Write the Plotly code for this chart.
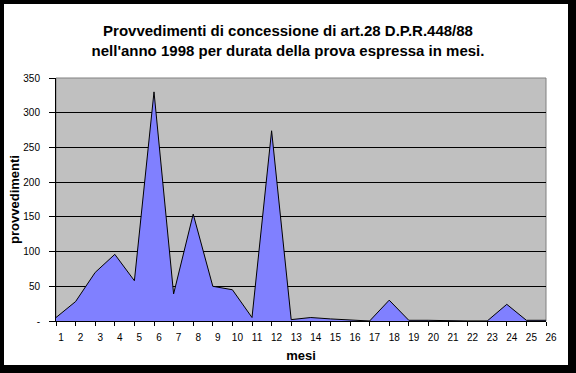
import plotly.graph_objects as go

months = list(range(1, 27))
month_labels = [str(m) for m in months]
provvedimenti = [5, 28, 70, 96, 58, 330, 39, 154, 50, 45, 5, 274, 2, 5, 3, 1, 0, 30, 1, 1, 0, 0, 0, 24, 1, 1]
y_ticks = [0, 50, 100, 150, 200, 250, 300, 350]
y_tick_labels = ["-", "50", "100", "150", "200", "250", "300", "350"]

W, H = 576, 373
L, R, T, B = 56, 30, 78, 52
pw, ph = W - L - R, H - T - B

def px_x(p):
    return (p - L) / pw

def px_y(p):
    return (H - B - p) / ph

fig = go.Figure()
fig.add_trace(go.Scatter(
    x=months, y=provvedimenti, mode="lines", fill="tozeroy",
    fillcolor="#8080FF", line=dict(color="#000000", width=1),
    hoverinfo="x+y", showlegend=False,
))

shapes = []
# black frame (thin top/left, thicker bottom/right)
for x0, y0, x1, y1 in [(0, 0, W, 4), (0, 0, 4, H), (568, 0, W, H), (0, 365, W, H)]:
    shapes.append(dict(type="rect", xref="paper", yref="paper",
                       x0=px_x(x0), x1=px_x(x1), y0=px_y(y1), y1=px_y(y0),
                       fillcolor="black", line=dict(width=0), layer="above"))
# grey plot-area border
shapes.append(dict(type="rect", xref="paper", yref="paper", x0=0, x1=1, y0=0, y1=1,
                   line=dict(color="#808080", width=1), layer="below"))

fig.update_layout(
    width=W, height=H,
    margin=dict(l=L, r=R, t=T, b=B),
    paper_bgcolor="white", plot_bgcolor="#C0C0C0",
    font=dict(family="Arial, Liberation Sans, sans-serif", color="black", size=10),
    title=dict(
        text="<b>Provvedimenti di concessione di art.28 D.P.R.448/88<br>nell'anno 1998 per durata della prova espressa in mesi.</b>",
        x=0.5, xanchor="center", y=1 - 36 / H, yanchor="middle",
        font=dict(size=15, color="black"),
    ),
    xaxis=dict(
        range=[1, 26], tickmode="array", tickvals=months, ticktext=month_labels,
        showgrid=False, zeroline=False, showline=True, linecolor="black", linewidth=1,
        ticks="outside", ticklen=4, tickcolor="black", ticklabelshift=5,
        ticklabelstandoff=3,
        title=dict(text="<b>mesi</b>", font=dict(size=13), standoff=8),
    ),
    yaxis=dict(
        range=[0, 350], tickmode="array", tickvals=y_ticks, ticktext=y_tick_labels,
        showgrid=True, gridcolor="black", gridwidth=1, zeroline=False,
        showline=True, linecolor="black", linewidth=1,
        ticks="outside", ticklen=6, tickcolor="black", ticklabelstandoff=7,
        title=dict(text="<b>provvedimenti</b>", font=dict(size=13), standoff=0),
    ),
    shapes=shapes,
)

fig.write_html(
    "out.html",
    config={"displayModeBar": False},
    post_script="document.body.style.margin='0';document.body.style.overflow='hidden';",
)
